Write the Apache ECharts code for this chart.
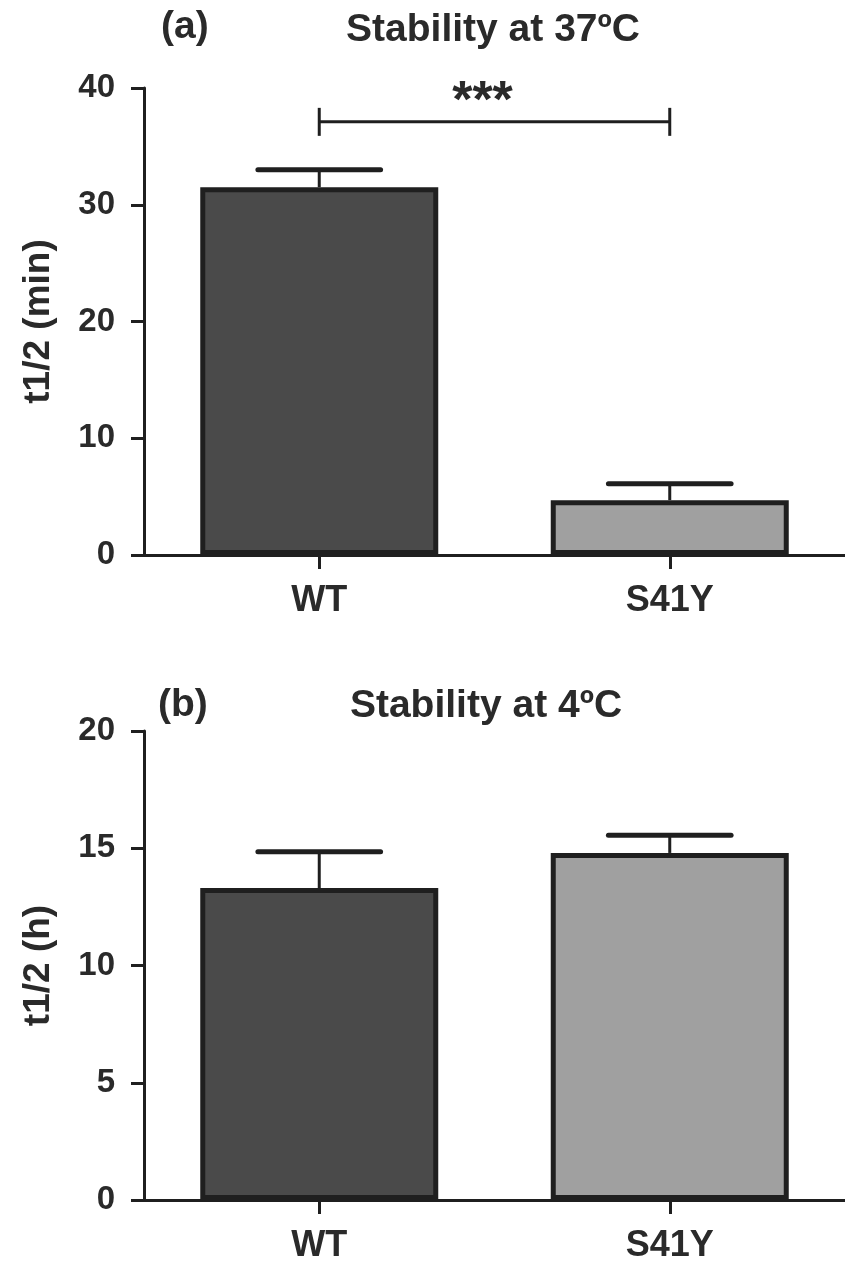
<!DOCTYPE html>
<html>
<head>
<meta charset="utf-8">
<script src="https://cdn.jsdelivr.net/npm/echarts@6/dist/echarts.min.js"></script>
<style>
html,body{margin:0;padding:0;background:#fff;}
#chart{width:845px;height:1265px;}
</style>
</head>
<body>
<div id="chart"></div>
<script>
// ---- data ----
var categories = ['WT', 'S41Y'];
var mean37 = [31.5, 4.7];      // t1/2 (min) at 37 °C
var sem37 = [1.5, 1.4];
var mean4 = [13.3, 14.8];      // t1/2 (h) at 4 °C
var sem4 = [1.55, 0.75];
var yTicks37 = [0, 10, 20, 30, 40];
var yTicks4 = [0, 5, 10, 15, 20];
var sigFrom = 'WT', sigTo = 'S41Y', sigLevel = 37.1, sigText = '***';
var panelTitles = ['Stability at 37ºC', 'Stability at 4ºC'];
var panelTags = ['(a)', '(b)'];
var yNames = ['t1/2 (min)', 't1/2 (h)'];
var barColors = ['#4a4a4a', '#a0a0a0'];

var FONT = '"Liberation Sans", Arial, Helvetica, sans-serif';
var INK = '#1f1f1f';
var TXT = '#2a2a2a';

var chart = echarts.init(document.getElementById('chart'), null, {renderer: 'canvas'});

function yAxisCfg(idx, ticks, name) {
  return {
    gridIndex: idx, type: 'value',
    min: ticks[0], max: ticks[ticks.length - 1], interval: ticks[1] - ticks[0],
    axisLine: {show: true, lineStyle: {color: INK, width: 3}},
    axisTick: {show: true, length: 13, lineStyle: {color: INK, width: 3}},
    axisLabel: {fontSize: 33, fontWeight: 'bold', color: TXT, margin: 29, fontFamily: FONT},
    splitLine: {show: false},
    name: name, nameLocation: 'middle', nameGap: 87,
    nameTextStyle: {fontSize: 37, fontWeight: 'bold', color: TXT, fontFamily: FONT}
  };
}
function xAxisCfg(idx) {
  return {
    gridIndex: idx, type: 'category', data: categories,
    axisLine: {show: true, lineStyle: {color: INK, width: 3}},
    axisTick: {show: true, alignWithLabel: true, length: 14, lineStyle: {color: INK, width: 3}},
    axisLabel: {fontSize: 36, fontWeight: 'bold', color: TXT, margin: 28, fontFamily: FONT}
  };
}
function barSeries(idx, means) {
  return {
    type: 'bar', xAxisIndex: idx, yAxisIndex: idx, barWidth: 238,
    data: means.map(function (v, i) {
      return {value: v, itemStyle: {color: barColors[i]}};
    }),
    itemStyle: {borderColor: INK, borderWidth: 5},
    z: 2, silent: true
  };
}
function errSeries(idx, means, sems) {
  return {
    type: 'custom', xAxisIndex: idx, yAxisIndex: idx, z: 3, silent: true,
    data: means.map(function (v, i) { return [i, v, v + sems[i]]; }),
    renderItem: function (params, api) {
      var base = api.coord([api.value(0), api.value(1)]);
      var top = api.coord([api.value(0), api.value(2)]);
      var half = api.size([1, 0])[0] * 0.175;
      return {
        type: 'group',
        children: [
          {type: 'line', shape: {x1: base[0], y1: base[1], x2: top[0], y2: top[1]},
           style: {stroke: INK, lineWidth: 3}},
          {type: 'line', shape: {x1: top[0] - half, y1: top[1], x2: top[0] + half, y2: top[1]},
           style: {stroke: INK, lineWidth: 5, lineCap: 'round'}}
        ]
      };
    }
  };
}
var sigSeries = {
  type: 'custom', xAxisIndex: 0, yAxisIndex: 0, z: 4, silent: true,
  data: [[categories.indexOf(sigFrom), categories.indexOf(sigTo), sigLevel]],
  renderItem: function (params, api) {
    var a = api.coord([api.value(0), api.value(2)]);
    var b = api.coord([api.value(1), api.value(2)]);
    var h = 14;
    return {
      type: 'group',
      children: [
        {type: 'line', shape: {x1: a[0], y1: a[1], x2: b[0], y2: b[1]}, style: {stroke: INK, lineWidth: 3}},
        {type: 'line', shape: {x1: a[0], y1: a[1] - h, x2: a[0], y2: a[1] + h}, style: {stroke: INK, lineWidth: 3}},
        {type: 'line', shape: {x1: b[0], y1: b[1] - h, x2: b[0], y2: b[1] + h}, style: {stroke: INK, lineWidth: 3}},
        {type: 'text', style: {text: sigText, x: (a[0] + b[0]) / 2 - 12, y: a[1] - 19,
          textAlign: 'center', textVerticalAlign: 'middle',
          font: 'bold 52px ' + FONT, fill: TXT}}
      ]
    };
  }
};

var option = {
  animation: false,
  backgroundColor: '#ffffff',
  grid: [
    {left: 144, top: 88, width: 706, height: 467},
    {left: 144, top: 731, width: 706, height: 469}
  ],
  xAxis: [xAxisCfg(0), xAxisCfg(1)],
  yAxis: [yAxisCfg(0, yTicks37, yNames[0]), yAxisCfg(1, yTicks4, yNames[1])],
  graphic: [
    {type: 'text', left: 161, top: 8, style: {text: panelTags[0], font: 'bold 39px ' + FONT, fill: TXT}},
    {type: 'text', x: 493, y: 30, style: {text: panelTitles[0], font: 'bold 39px ' + FONT, fill: TXT, textAlign: 'center', textVerticalAlign: 'middle'}},
    {type: 'text', left: 158, top: 686, style: {text: panelTags[1], font: 'bold 39px ' + FONT, fill: TXT}},
    {type: 'text', x: 486, y: 706, style: {text: panelTitles[1], font: 'bold 39px ' + FONT, fill: TXT, textAlign: 'center', textVerticalAlign: 'middle'}}
  ],
  series: [
    barSeries(0, mean37), errSeries(0, mean37, sem37), sigSeries,
    barSeries(1, mean4), errSeries(1, mean4, sem4)
  ]
};
chart.setOption(option);
</script>
</body>
</html>
